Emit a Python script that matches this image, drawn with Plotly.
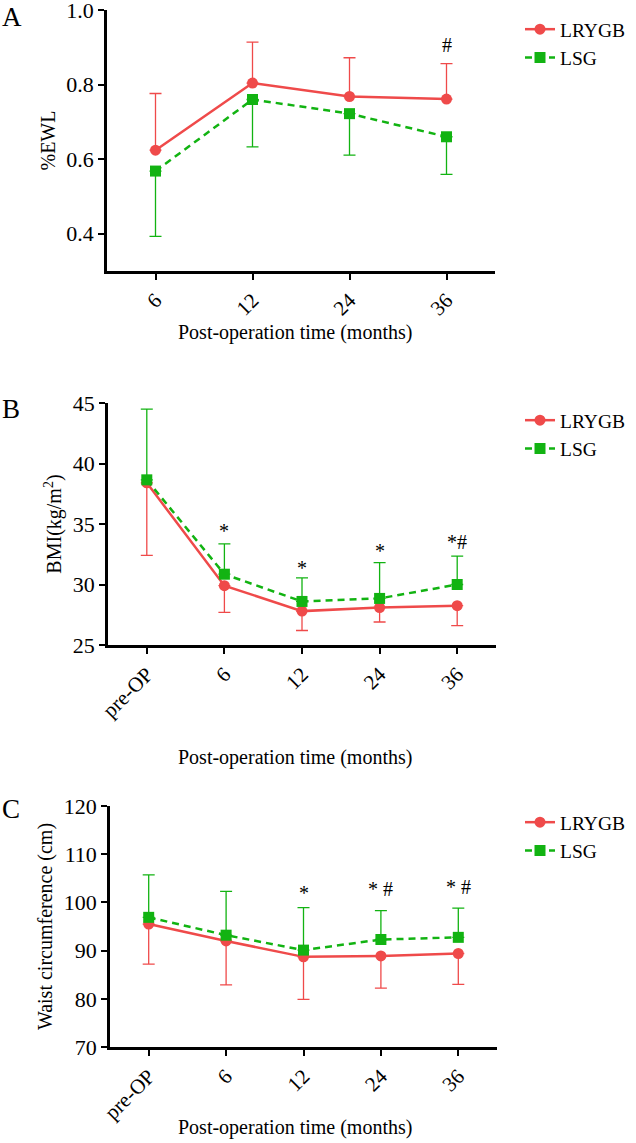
import plotly.graph_objects as go

# ── data ─────────────────────────────────────────────────────────────────────
months_a = ["6", "12", "24", "36"]
months_bc = ["pre-OP", "6", "12", "24", "36"]

# A: %EWL
ewl_lrygb = [0.624, 0.804, 0.768, 0.761]
ewl_lrygb_upper = [0.776, 0.914, 0.872, 0.856]
ewl_lsg = [0.568, 0.760, 0.722, 0.660]
ewl_lsg_lower = [0.393, 0.633, 0.611, 0.559]

# B: BMI
bmi_lrygb = [38.4, 29.9, 27.8, 28.1, 28.25]
bmi_lrygb_lower = [32.4, 27.7, 26.2, 26.9, 26.6]
bmi_lsg = [38.65, 30.85, 28.6, 28.85, 30.0]
bmi_lsg_upper = [44.5, 33.35, 30.55, 31.8, 32.35]

# C: waist circumference
waist_lrygb = [95.5, 92.0, 88.7, 88.9, 89.4]
waist_lrygb_lower = [87.2, 82.9, 79.9, 82.2, 83.0]
waist_lsg = [96.9, 93.2, 90.1, 92.3, 92.75]
waist_lsg_upper = [105.7, 102.3, 98.9, 98.3, 98.8]

# significance marks (category, y, text)
marks_a = [("36", 0.905, "#")]
marks_b = [("6", 34.4, "*"), ("12", 31.4, "*"), ("24", 32.8, "*"), ("36", 33.5, "*#")]
marks_c = [("12", 102.0, "*"), ("24", 102.7, "* #"), ("36", 103.2, "* #")]

RED = "#EF4A4A"
GREEN = "#12B312"
FONT = "Liberation Serif"
W, H = 636, 1143


def px_x(p):
    return p / W


def px_y(p):
    return 1 - p / H


fig = go.Figure()

panels = [
    # (suffix, cats, red, red_err, green, green_err, red_up, legend)
    ("", months_a, ewl_lrygb, ewl_lrygb_upper, ewl_lsg, ewl_lsg_lower, True, "legend"),
    ("2", months_bc, bmi_lrygb, bmi_lrygb_lower, bmi_lsg, bmi_lsg_upper, False, "legend2"),
    ("3", months_bc, waist_lrygb, waist_lrygb_lower, waist_lsg, waist_lsg_upper, False, "legend3"),
]

for sfx, cats, red, red_e, green, green_e, red_up, leg in panels:
    if red_up:
        red_err = dict(type="data", symmetric=False,
                       array=[u - v for u, v in zip(red_e, red)],
                       arrayminus=[0] * len(red))
        green_err = dict(type="data", symmetric=False,
                         array=[0] * len(green),
                         arrayminus=[v - l for v, l in zip(green, green_e)])
    else:
        red_err = dict(type="data", symmetric=False,
                       array=[0] * len(red),
                       arrayminus=[v - l for v, l in zip(red, red_e)])
        green_err = dict(type="data", symmetric=False,
                         array=[u - v for u, v in zip(green_e, green)],
                         arrayminus=[0] * len(green))
    red_err.update(color=RED, thickness=1.3, width=6)
    green_err.update(color=GREEN, thickness=1.3, width=6)

    fig.add_trace(go.Scatter(
        x=cats, y=red, name="LRYGB", mode="lines+markers",
        line=dict(color=RED, width=2.5),
        marker=dict(symbol="circle", size=11, color=RED),
        error_y=red_err, xaxis="x" + sfx, yaxis="y" + sfx, legend=leg,
    ))
    fig.add_trace(go.Scatter(
        x=cats, y=green, name="LSG", mode="lines+markers",
        line=dict(color=GREEN, width=2.5, dash="7px,5px"),
        marker=dict(symbol="square", size=11, color=GREEN),
        error_y=green_err, xaxis="x" + sfx, yaxis="y" + sfx, legend=leg,
    ))

axis_common = dict(
    showline=True, linecolor="black", linewidth=2.5,
    ticks="outside", ticklen=6, tickwidth=2, tickcolor="black",
    showgrid=False, zeroline=False, automargin=False,
    ticklabeloverflow="allow",
)

# pixel boxes of the three plot areas: (left, right, top, bottom)
boxes = [(107, 495, 10, 271), (108, 496, 403, 645), (110, 497, 806, 1047)]
yspecs = [
    dict(range=[0.3, 1.0], tickvals=[0.4, 0.6, 0.8, 1.0], tickformat=".1f", title="%EWL"),
    dict(range=[25, 45], tickvals=[25, 30, 35, 40, 45], title="BMI(kg/m<sup>2</sup>)"),
    dict(range=[70, 120], tickvals=[70, 80, 90, 100, 110, 120], title="Waist circumference (cm)"),
]
xranges = [[-0.5, 3.5], [-0.5, 4.5], [-0.5, 4.5]]

layout = {}
for i, ((l, r, t, b), ys, xr) in enumerate(zip(boxes, yspecs, xranges)):
    sfx = "" if i == 0 else str(i + 1)
    layout["xaxis" + sfx] = dict(
        axis_common, domain=[px_x(l), px_x(r)], range=xr, type="category",
        tickangle=-45, anchor="y" + sfx,
        tickfont=dict(family=FONT, size=21, color="black"),
    )
    layout["yaxis" + sfx] = dict(
        axis_common, domain=[px_y(b), px_y(t)], range=ys["range"],
        tickvals=ys["tickvals"], tickformat=ys.get("tickformat", ""),
        anchor="x" + sfx,
        tickfont=dict(family=FONT, size=22, color="black"),
        title=dict(text=ys["title"], font=dict(family=FONT, size=20, color="black"),
                   standoff=6),
    )

legend_style = dict(
    font=dict(family=FONT, size=19.5, color="black"),
    bgcolor="rgba(0,0,0,0)", xanchor="left", yanchor="top",
    itemwidth=30, tracegroupgap=0,
)
layout["legend"] = dict(legend_style, x=px_x(520), y=px_y(10))
layout["legend2"] = dict(legend_style, x=px_x(520), y=px_y(401))
layout["legend3"] = dict(legend_style, x=px_x(520), y=px_y(803))

annotations = []
# x-axis titles
for ypix in (333, 757, 1127):
    annotations.append(dict(
        text="Post-operation time (months)", xref="paper", yref="paper",
        x=px_x(295), y=px_y(ypix), showarrow=False, xanchor="center", yanchor="middle",
        font=dict(family=FONT, size=20, color="black"),
    ))
# panel letters
for letter, ypix in (("A", 0), ("B", 392), ("C", 792)):
    annotations.append(dict(
        text=letter, xref="paper", yref="paper", x=0, y=px_y(ypix),
        showarrow=False, xanchor="left", yanchor="top",
        font=dict(family=FONT, size=27, color="black"),
    ))
# significance marks (x given as category index)
for sfx, cats, marks in (("", months_a, marks_a), ("2", months_bc, marks_b),
                         ("3", months_bc, marks_c)):
    for cat, yv, txt in marks:
        annotations.append(dict(
            text=txt, x=cats.index(cat), y=yv, xref="x" + sfx, yref="y" + sfx,
            showarrow=False, xanchor="center", yanchor="middle",
            font=dict(family=FONT, size=20, color="black"),
        ))

fig.update_layout(
    **layout,
    annotations=annotations,
    width=W, height=H,
    margin=dict(l=0, r=0, t=0, b=0, autoexpand=False),
    paper_bgcolor="white", plot_bgcolor="white",
    font=dict(family=FONT, color="black"),
)

# drop the browser's default 8px body margin so the figure sits at (0, 0)
fig.write_html(
    "out.html",
    config={"displayModeBar": False},
    post_script="document.body.style.margin='0';",
)
